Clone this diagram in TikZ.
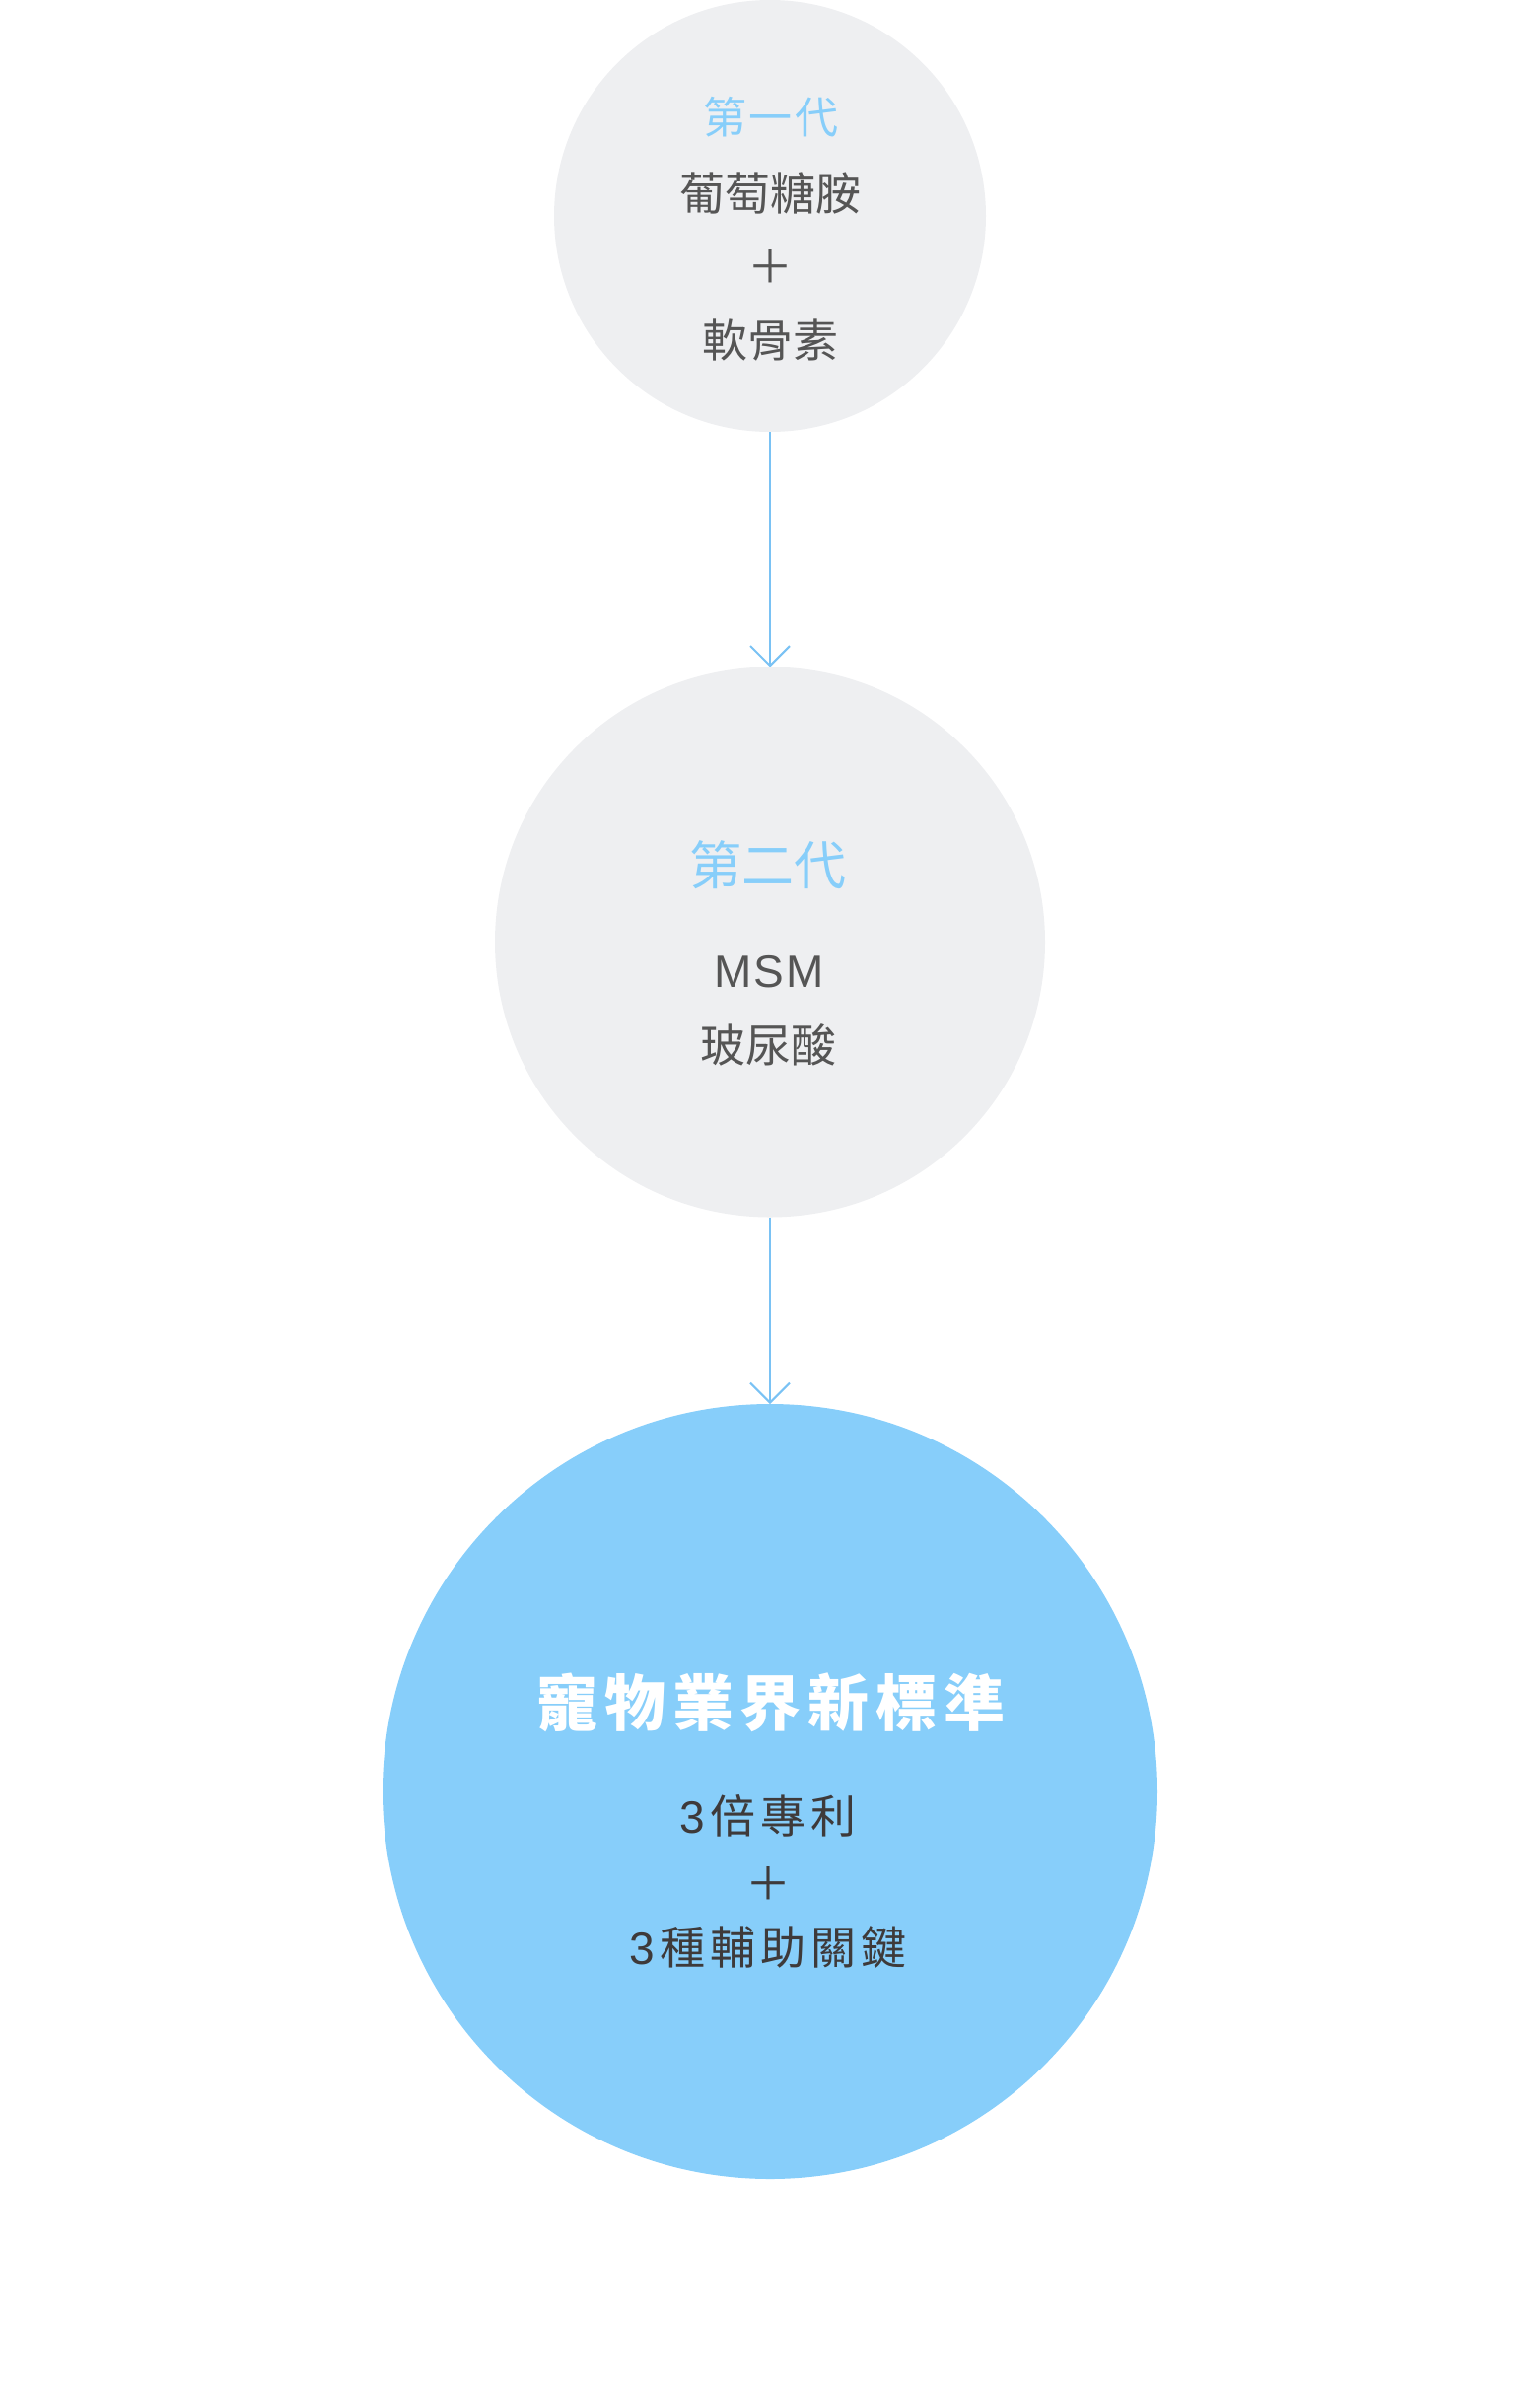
\documentclass[tikz,border=0pt]{standalone}
\usepackage{fontspec}
\setmainfont{Noto Sans CJK TC}
\newfontfamily\latinfont{Liberation Sans}
\usetikzlibrary{arrows.meta}
\definecolor{sky}{HTML}{87CEFA}
\definecolor{mist}{HTML}{EEEFF1}
\definecolor{ink}{HTML}{555555}
\definecolor{deep}{HTML}{3E3A3A}
\definecolor{wire}{HTML}{7AC2F4}
\newcommand{\fs}[1]{\fontsize{#1}{#1}\selectfont}
\newcommand{\digit}[1]{{\latinfont#1}\hspace{6pt}}

\begin{document}
\begin{tikzpicture}[x=1pt, y=-1pt, >={Straight Barb[length=20pt, width=40pt]},
    bubble/.style={circle, inner sep=0pt, outer sep=0pt, draw=none},
    head/.style={text=sky, inner sep=0pt},
    body/.style={text=ink, inner sep=0pt, font=\fs{46}},
    deepbody/.style={text=deep, inner sep=0pt, font=\fs{46}\addfontfeature{LetterSpace=11}},
    link/.style={->, draw=wire, line width=2pt}]
    \useasboundingbox (0, 0) rectangle (1561, 2420);
    \node[bubble, fill=mist, minimum size=438pt] (first) at (781, 219) {};
    \node[bubble, fill=mist, minimum size=558pt] (second) at (781, 955.5) {};
    \node[bubble, fill=sky, minimum size=786pt] (third) at (781, 1817) {};
    \draw[link] (first.south) -- (second.north);
    \draw[link] (second.south) -- (third.north);
    %% first generation
    \node[head, font=\fs{44}\addfontfeature{LetterSpace=6}] (t1) at (782, 118.5) {第一代};
    \node[body] (a1) at (781, 196) {葡萄糖胺};
    \node[body] (p1) at (781, 270) {＋};
    \node[body] (b1) at (781, 345.5) {軟骨素};
    %% second generation
    \node[head, font=\fs{53}] (t2) at (779, 877.5) {第二代};
    \node[body, font=\latinfont\fs{46}\addfontfeature{LetterSpace=5}] (m2) at (780, 985.5) {MSM};
    \node[body] (a2) at (779, 1060) {玻尿酸};
    %% new standard
    \node[text=white, inner sep=0pt, font=\bfseries\fs{62}\addfontfeature{LetterSpace=11}] (t3) at (782, 1727) {寵物業界新標準};
    \node[deepbody] (a3) at (779, 1842) {\digit{3}倍專利};
    \node[body, text=deep] (p3) at (779, 1910) {＋};
    \node[deepbody] (b3) at (779, 1974.5) {\digit{3}種輔助關鍵};
\end{tikzpicture}
\end{document}
